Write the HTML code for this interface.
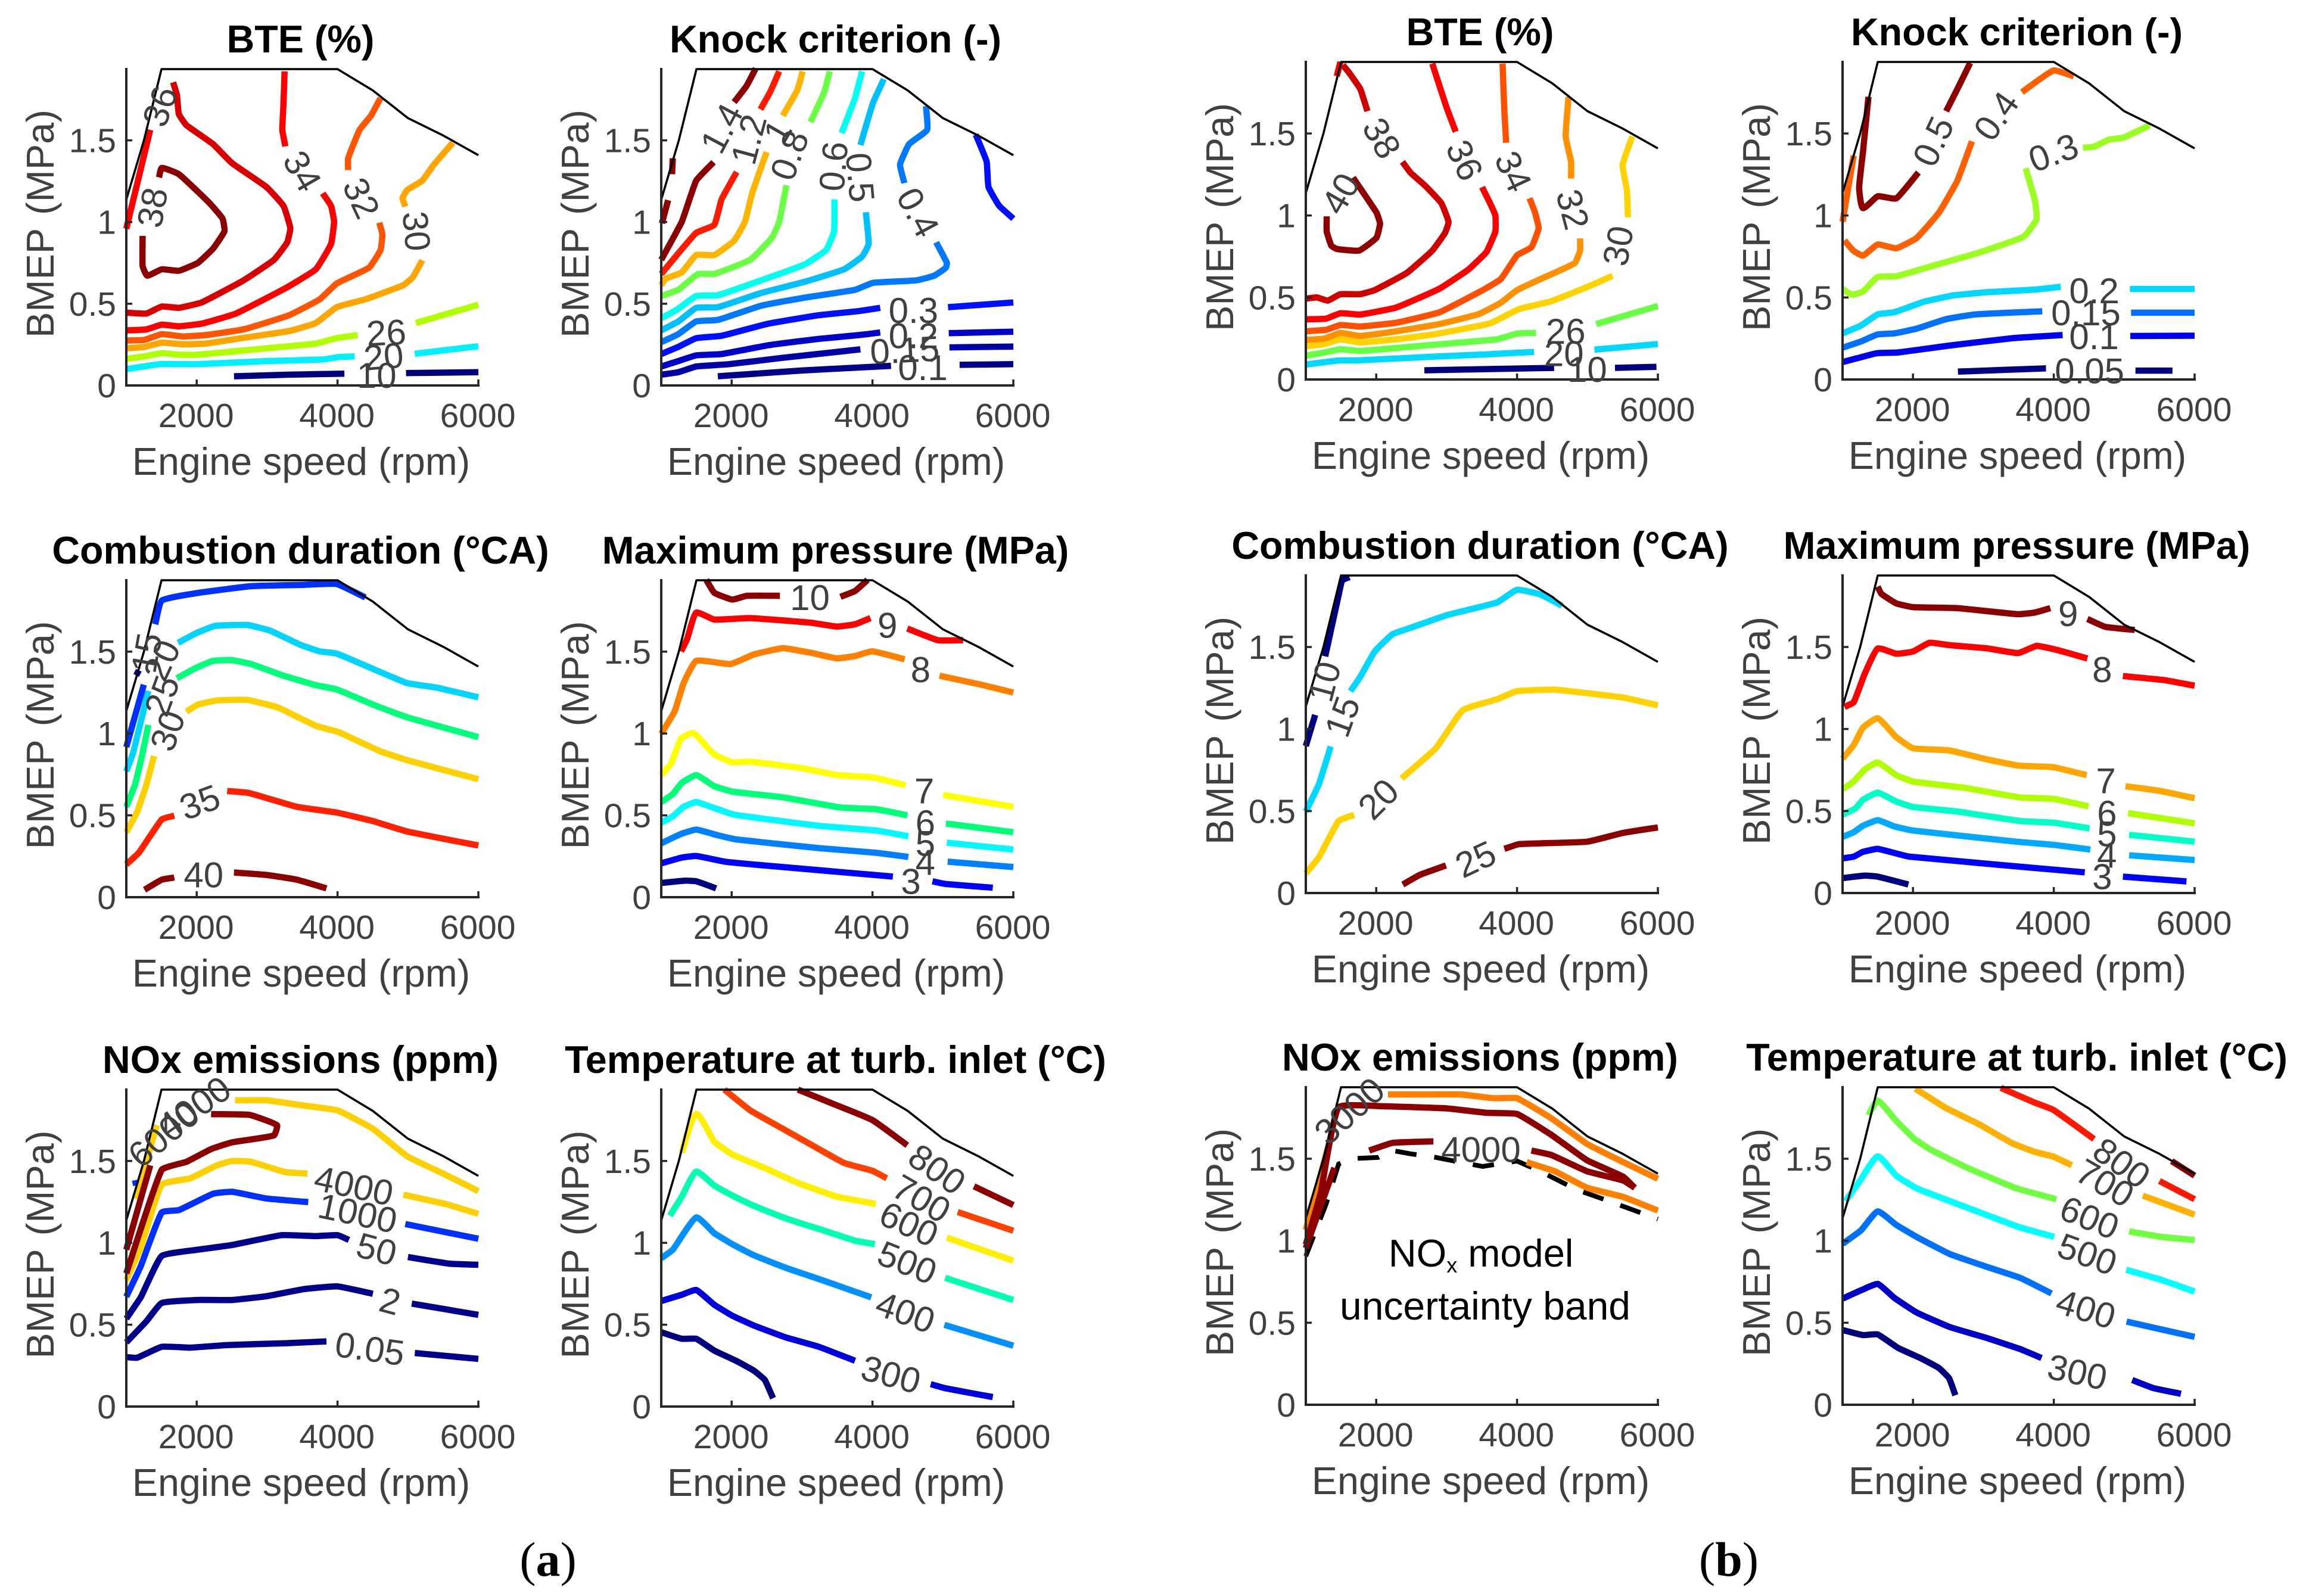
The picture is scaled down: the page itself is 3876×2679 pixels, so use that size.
<!DOCTYPE html>
<html lang="en">
<head>
<meta charset="utf-8">
<title>Engine performance contour maps</title>
<style>
html,body{margin:0;padding:0;background:#fff}
svg{display:block}
text{font-family:"Liberation Sans",sans-serif}
</style>
</head>
<body>
<svg id="figure" xmlns="http://www.w3.org/2000/svg" width="3876" height="2679" viewBox="0 0 3876 2679">
<rect width="3876" height="2679" fill="#ffffff"/>
</svg>
<script>
const xTickValues=[2000,4000,6000];
const yTickValues=[0,0.5,1,1.5];
const xLabelText="Engine speed (rpm)";
const yLabelText="BMEP (MPa)";
const boundaryRpm=[1000,1250,1500,4000,4500,5000,5500,6000];
const boundaryBmep=[1.137,1.5,1.936,1.936,1.806,1.636,1.53,1.409];

/* Each line list: one entry per level, each a list of segments of rpm,bmep,rpm,bmep... */
const bteALevels=[10,20,26,30,32,34,36,38];
const bteALines=[
[[2530,.056,3313,.066,4097,.072],[4973,.076,6000,.081]],
[[1000,.10,1476,.13,2016,.13,2989,.149,3800,.159,4016,.174,4243,.178],[5097,.194,6000,.24]],
[[1000,.163,1259,.178,1503,.198,1746,.188,2016,.188,2989,.227,3692,.256,3989,.29,4286,.308],[5113,.382,6000,.494]],
[[1000,.227,1259,.236,1503,.262,1800,.252,2124,.256,2719,.295,3313,.333,3692,.382,3989,.479,4394,.527,4935,.614,5070,.663,5205,.766],[4962,1.095,4924,1.147,4989,1.196,5205,1.254,5367,1.351,5637,1.486]],
[[1000,.275,1259,.279,1503,.314,1800,.30,2124,.308,2665,.343,3313,.43,3746,.527,3989,.624,4448,.721,4610,.828,4637,.924,4594,.996],[4151,1.318,4151,1.39,4313,1.564,4475,1.651,4610,1.758]],
[[1000,.337,1286,.343,1503,.372,1746,.362,2070,.378,2557,.44,3259,.595,3692,.711,3908,.866,3951,1.002,3908,1.099,3789,1.176],[3259,1.463,3216,1.564,3232,1.719,3248,1.922],[1000,.959,1340,1.564]],
[[1000,.446,1286,.44,1503,.483,1746,.475,2070,.508,2665,.643,3097,.769,3286,.876,3329,.963,3232,1.099,2989,1.215,2503,1.36,2232,1.477,1854,1.593,1746,1.661,1719,1.777,1665,1.855]],
[[1232,.915,1232,.731,1297,.672,1503,.711,1746,.702,2016,.75,2232,.837,2394,.944,2367,1.021,2178,1.118,1746,1.293,1503,1.331,1465,1.273]]
];
const bteALabels=[["38",1368,1.089],["36",1476,1.709],["34",3502,1.312],["32",4340,1.147],["30",5124,.944],["26",4692,.324],["20",4654,.178],["10",4556,.062]];
const bteAAngles=[-80,-70,60,65,85,-3,-5,0];

const knockALevels=[0.1,0.15,0.2,0.3,0.4,0.5,0.6,0.8,1,1.2,1.4];
const knockALines=[
[[1804,.056,2983,.091,4263,.12],[5237,.126,6000,.13]],
[[1000,.066,1241,.081,1497,.116,1958,.13,2726,.169,3828,.221],[5093,.233,6000,.238]],
[[1000,.116,1241,.149,1497,.184,1856,.192,2522,.246,3239,.285,3802,.308,4110,.324],[5083,.32,6000,.329]],
[[1000,.192,1241,.236,1497,.289,1856,.304,2522,.378,3239,.43,3802,.455,4110,.475],[5073,.479,6000,.508],[5467,1.535,5621,1.37,5647,1.215,5800,1.099,6000,1.021]],
[[1000,.265,1241,.314,1497,.392,1804,.401,2419,.488,3034,.537,3751,.585,4007,.628,4622,.643,4878,.672,5042,.721,5057,.75,4904,.876],[4453,1.238,4391,1.351,4520,1.477,4776,1.564,4760,1.709]],
[[1000,.337,1241,.391,1497,.475,1804,.479,2419,.566,3034,.634,3597,.711,3853,.789,3946,.866,3905,1.06],[3828,1.471,4007,1.729,4161,1.874]],
[[1000,.411,1241,.469,1497,.547,1804,.552,2419,.643,3034,.74,3341,.828,3454,.944,3459,1.138],[3562,1.545,3751,1.758,3853,1.922]],
[[1000,.547,1241,.585,1523,.682,1753,.682,2265,.769,2573,.905,2675,1.002,2778,1.225],[3121,1.612,3316,1.797,3393,1.922]],
[[1000,.614,1061,.653,1292,.692,1497,.798,1753,.798,2035,.886,2189,1.002,2291,1.176,2496,1.428],[2726,1.651,2931,1.806,3008,1.922]],
[[1000,.682,1241,.808,1497,.934,1753,.983,1856,1.138,2071,1.306],[2409,1.69,2547,1.797,2675,1.922]],
[[1000,.769,1292,1.002,1497,1.254,1743,1.366],[2035,1.734,2214,1.835,2342,1.94],[1010,.992,1097,1.134],[1164,1.39,1154,1.293]]
];
const knockALabels=[["1.4",1856,1.574],["1.2",2240,1.506],["1",2650,1.554],["0.8",2818,1.409],["0.6",3444,1.341],["0.5",3828,1.273],["0.4",4648,1.06],["0.3",4581,.459],["0.2",4581,.304],["0.15",4458,.217],["0.1",4714,.11]];
const knockAAngles=[-62,-75,-60,-70,-85,85,62,0,0,-3,0];

const combALevels=[40,35,30,25,20,15,10];
const combALines=[
[[1259,.045,1503,.107,1681,.12],[2530,.151,2989,.136,3421,.107,3843,.054]],
[[1000,.2,1178,.271,1503,.475,1681,.498],[2432,.649,2746,.636,3421,.552,3989,.517,4502,.465,4989,.401,6000,.316]],
[[1000,.397,1151,.517,1286,.688,1394,.862],[1854,1.134,2016,1.176,2286,1.202,2719,1.205,3151,1.159,3692,1.047,4016,1.008,4610,.891,4989,.837,6000,.721]],
[[1000,.552,1124,.688,1232,.882,1313,1.052],[1719,1.337,1962,1.395,2232,1.444,2503,1.448,2773,1.424,3205,1.357,3692,1.295,3989,1.269,4529,1.172,4989,1.099,6000,.978]],
[[1000,.769,1097,.882,1313,1.26],[1735,1.554,1989,1.612,2259,1.657,2719,1.663,3043,1.628,3475,1.541,3746,1.502,3989,1.488,4502,1.395,4989,1.308,5421,1.279,6000,1.221]],
[[1000,.917,1249,1.298],[1411,1.667,1503,1.812,1962,1.855,2773,1.9,3530,1.908,3989,1.913,4394,1.831]],
[[1140,1.355,1178,1.386]]
];
const combALabels=[["15",1286,1.492],["20",1503,1.448],["25",1503,1.231],["30",1584,1.017],["35",2043,.581],["40",2097,.136]];
const combAAngles=[-80,-65,-70,-70,-20,0];

const pmaxALevels=[2,3,4,5,6,7,8,9,10];
const pmaxALines=[
[[1000,.087,1343,.101,1497,.097,1779,.054]],
[[1000,.207,1292,.242,1497,.252,1907,.217,2726,.184,4289,.126],[4852,.097,5032,.081,5708,.058]],
[[1000,.329,1292,.388,1497,.413,1804,.378,2061,.353,3239,.3,4058,.271,4509,.246],[5068,.217,6000,.184]],
[[1000,.455,1164,.494,1318,.552,1497,.581,1804,.537,2035,.504,3239,.436,4058,.407,4509,.372],[5057,.333,6000,.291]],
[[1000,.581,1164,.63,1292,.698,1497,.746,1753,.678,2009,.645,2726,.61,3546,.548,4058,.537,4494,.5],[5042,.45,6000,.397]],
[[1000,.746,1138,.814,1282,.969,1446,1.004,1522,.979,1753,.872,2009,.824,2265,.828,2982,.789,3495,.746,4007,.731,4468,.684],[5007,.624,6000,.552]],
[[1000,.998,1189,1.134,1318,1.308,1497,1.444,1984,1.424,2316,1.483,2726,1.521,3135,1.492,3495,1.459,3751,1.473,3997,1.502,4458,1.453],[4952,1.353,5543,1.298,6000,1.25]],
[[1282,1.502,1369,1.579,1497,1.738,1753,1.696,2265,1.705,3135,1.676,3495,1.653,3751,1.667,3971,1.705],[4494,1.641,4929,1.57,5288,1.57]],
[[1640,1.938,1753,1.86,2009,1.818,2214,1.841,2685,1.841],[3546,1.835,3751,1.87,3930,1.938]]
];
const pmaxALabels=[["10",3111,1.831],["9",4212,1.661],["8",4683,1.391],["7",4735,.649],["6",4750,.455],["5",4750,.329],["4",4750,.213],["3",4545,.097]];
const pmaxAAngles=[0,0,0,0,0,0,0,0];

const noxALevels=[0.05,2,50,1000,4000,6000];
const noxALines=[
[[1000,.302,1151,.298,1503,.365,1908,.36,2449,.376,3259,.387,3843,.398],[5097,.327,6000,.291]],
[[1000,.392,1286,.521,1503,.633,2016,.651,2503,.651,2989,.674,3530,.718,4000,.734,4502,.689],[5054,.629,6000,.56]],
[[1000,.537,1205,.667,1503,.92,2016,.958,2503,.987,3205,1.047,3692,1.041,4000,1.047,4162,1.018],[5000,.913,5583,.873,6000,.866]],
[[1000,.671,1205,.857,1503,1.186,1746,1.2,2232,1.3,2503,1.312,2989,1.271,3584,1.249],[4962,1.115,6000,1.025],[1124,1.383,1140,1.35]],
[[1000,.772,1205,.969,1503,1.356,1908,1.394,2286,1.473,2503,1.5,2773,1.495,3259,1.432,3573,1.423],[4935,1.294,5530,1.238,6000,1.177],[1124,1.271,1232,1.417,1432,1.719],[2546,1.871,2989,1.871,3530,1.838,4000,1.809,4502,1.697,4989,1.529,5530,1.417,6000,1.316]],
[[1000,.813,1503,1.446,1854,1.495,2205,1.573,2503,1.614,3097,1.656,3140,1.719,2746,1.782,2205,1.786],[1000,.958,1340,1.473]]
];
const noxALabels=[["4000",4232,1.35],["1000",4286,1.182],["50",4556,.962],["2",4746,.645],["0.05",4459,.354],["6000",1530,1.663],["4000",1962,1.829]];
const noxAAngles=[12,12,15,15,8,-40,-35];

const tempALevels=[200,300,400,500,600,700,800];
const tempALines=[
[[1000,.454,1292,.414,1497,.414,1753,.342,2061,.28,2316,.219,2470,.163,2588,.051]],
[[1000,.645,1292,.683,1497,.712,1753,.622,2009,.555,2316,.495,2778,.421,3239,.365,3751,.28],[4827,.137,5032,.112,5708,.058]],
[[1000,.906,1164,.958,1497,1.155,1753,1.059,2009,.992,2316,.924,2778,.846,3239,.779,3982,.667],[5021,.499,6000,.372]],
[[1123,1.166,1292,1.282,1497,1.435,1753,1.35,2009,1.289,2316,1.226,2778,1.148,3239,1.085,3751,1.014,4033,.992],[5032,.786,6000,.651]],
[[1292,1.551,1497,1.786,1753,1.618,2009,1.54,2470,1.457,2931,1.368,3495,1.282,4048,1.238],[5057,1.032,5442,.974,6000,.891]],
[[1897,1.936,2265,1.809,2726,1.697,3239,1.573,3597,1.488,4007,1.439,4202,1.394],[5211,1.188,6000,1.074]],
[[2942,1.936,3546,1.831,4007,1.748,4494,1.596],[5442,1.345,6000,1.231]]
];
const tempALabels=[["800",4919,1.45],["700",4699,1.271],["600",4519,1.115],["500",4494,.88],["400",4468,.577],["300",4263,.197]];
const tempAAngles=[35,30,25,22,20,15];

const bteBLevels=[10,20,26,30,32,34,36,38,40];
const bteBLines=[
[[2684,.056,4526,.071],[5391,.071,5980,.077]],
[[1000,.091,1466,.116,1722,.116,2796,.139,3564,.153,4240,.168],[5100,.182,6000,.216]],
[[1000,.145,1261,.164,1491,.184,1773,.174,2796,.211,3718,.245,4000,.28,4270,.284],[5125,.338,6000,.448]],
[[1000,.203,1261,.216,1491,.245,1773,.226,2285,.245,2796,.274,3615,.342,4025,.429,4485,.477,4997,.564,5355,.632],[5575,.989,5560,1.153,5499,1.308,5637,1.482]],
[[1000,.241,1261,.249,1491,.284,1773,.265,2285,.294,2899,.338,3462,.4,3769,.468,4000,.545,4332,.612,4818,.709,4895,.786,4895,.86],[4767,1.225,4767,1.327,4690,1.482,4731,1.723]],
[[1000,.294,1287,.303,1491,.332,1773,.323,2285,.346,2899,.41,3513,.545,3769,.612,4000,.757,4204,.806,4306,.922,4255,1.018,4178,1.105],[3845,1.443,3820,1.636,3794,1.926]],
[[1000,.367,1287,.371,1491,.404,1773,.396,2285,.439,2899,.554,3308,.67,3564,.777,3692,.902,3692,.999,3615,1.076,3503,1.173],[3129,1.511,3001,1.656,2796,1.926],[1440,1.849,1491,1.936]],
[[1000,.493,1159,.5,1312,.481,1491,.52,1773,.52,1978,.545,2438,.651,2796,.786,2976,.893,3027,.96,2924,1.076,2694,1.182,2489,1.26,2372,1.327],[1875,1.636,1773,1.772,1619,1.868,1527,1.917]],
[[1297,.995,1297,.902,1363,.815,1440,.796,1757,.786,2003,.864,2054,.951,2003,1.018,1670,1.231]]
];
const bteBLabels=[["40",1491,1.134],["38",2080,1.472],["36",3257,1.337],["34",3948,1.269],["32",4793,1.037],["30",5432,.815],["26",4690,.294],["20",4665,.158],["10",4997,.062]];
const bteBAngles=[-60,60,65,65,75,-80,0,0,0];

const knockBLevels=[0.05,0.1,0.15,0.2,0.3,0.4,0.5];
const knockBLines=[
[[2639,.048,3889,.068],[5160,.054,5685,.054]],
[[1000,.106,1263,.136,1499,.161,1788,.165,2523,.207,3416,.252,4125,.271],[5086,.265,6000,.267]],
[[1000,.194,1263,.232,1499,.275,1735,.281,2050,.31,2471,.368,2891,.397,3836,.416],[5097,.407,6000,.407]],
[[1000,.281,1263,.329,1499,.397,1735,.41,2155,.474,2576,.513,3048,.532,3731,.548,4099,.565],[5081,.552,6000,.552]],
[[1000,.552,1131,.517,1289,.536,1499,.625,1762,.629,2313,.697,2943,.774,3573,.871,3757,.978,3731,1.094,3600,1.288],[4414,1.413,4571,1.419,4781,1.462,4991,1.475,5359,1.549]],
[[1026,.848,1158,.784,1289,.755,1499,.823,1762,.8,2050,.862,2366,1.016,2628,1.21,2838,1.452],[3547,1.752,3994,1.884,4283,1.849],[1000,.962,1158,1.365]],
[[1368,1.723,1289,1.384,1236,1.171,1289,1.045,1499,1.117,1762,1.104,2077,1.262],[2471,1.636,2654,1.791,2812,1.93]]
];
const knockBLabels=[["0.5",2287,1.452],["0.4",3180,1.607],["0.3",3994,1.384],["0.2",4571,.542],["0.15",4456,.407],["0.1",4571,.261],["0.05",4508,.052]];
const knockBAngles=[-65,-55,-20,0,0,0,0];

const combBLevels=[10,15,20,25];
const combBLines=[
[[1000,.896,1133,1.086],[1276,1.443,1466,1.816,1517,1.907,1619,1.926]],
[[1000,.497,1184,.661,1353,.893],[1635,1.231,1773,1.318,1978,1.472,2233,1.578,2489,1.617,3001,1.694,3718,1.772,4000,1.849,4332,1.82,4639,1.752]],
[[1000,.12,1184,.216,1466,.439,1686,.477],[2361,.699,2848,.883,3231,1.115,3718,1.182,4000,1.231,4537,1.24,4946,1.221,5509,1.192,6000,1.144]],
[[2377,.052,2617,.11,2991,.168],[3820,.269,4025,.298,4997,.313,5509,.367,6000,.4]]
];
const combBLabels=[["10",1261,1.289],["15",1517,1.076],["20",2029,.574],["25",3410,.207]];
const combBAngles=[-75,-70,-45,-25];

const pmaxBLevels=[2,3,4,5,6,7,8,9];
const pmaxBLines=[
[[1000,.091,1315,.106,1499,.1,1935,.052]],
[[1000,.211,1158,.222,1289,.251,1499,.269,1945,.222,4440,.126],[4981,.1,5884,.071]],
[[1000,.342,1158,.371,1289,.41,1499,.444,1735,.406,1998,.381,3468,.313,3994,.294,4519,.265],[5070,.23,6000,.201]],
[[1000,.477,1184,.516,1289,.568,1499,.612,1762,.558,1998,.525,2628,.497,3521,.439,3994,.429,4508,.394],[5070,.355,6000,.313]],
[[1000,.632,1158,.68,1315,.753,1499,.796,1762,.719,1998,.68,2733,.641,3521,.583,3994,.574,4492,.529],[5055,.487,6000,.425]],
[[1000,.819,1158,.902,1289,1.008,1499,1.066,1762,.951,1998,.883,2523,.869,3048,.815,3494,.777,3994,.767,4466,.719],[5018,.651,5517,.622,6000,.578]],
[[1026,1.134,1158,1.163,1315,1.337,1499,1.491,1762,1.459,1998,1.472,2234,1.526,2523,1.511,3048,1.492,3494,1.463,3757,1.507,4046,1.482,4477,1.43],[4981,1.323,5569,1.298,6000,1.264]],
[[1499,1.868,1551,1.824,1762,1.766,1998,1.743,2628,1.737,3494,1.7,3731,1.71,3951,1.737],[4477,1.671,4729,1.623,5149,1.604]]
];
const pmaxBLabels=[["9",4204,1.704],["8",4687,1.362],["7",4740,.684],["6",4755,.487],["5",4755,.361],["4",4755,.23],["3",4687,.1]];
const pmaxBAngles=[0,0,0,0,0,0,0];

const noxBBandRpm=[1000,1287,1466,1671,2029,2233,2489,2848,3154,3513,3743,3999,4332,4844,5355,6000];
const noxBBandBmep=[.906,1.222,1.468,1.501,1.508,1.55,1.53,1.508,1.482,1.453,1.469,1.486,1.423,1.312,1.234,1.132];
const noxBLevels=[3000,4000];
const noxBLines=[
[[1000,1.066,1363,1.646],[2167,1.892,2796,1.892,3205,1.892,3666,1.869,3999,1.869,4486,1.747,4997,1.59,5509,1.479,6000,1.378],[4137,1.479,4537,1.423,4997,1.323,5509,1.267,6000,1.184]],
[[1000,.977,1210,1.289,1466,1.813,2080,1.82,3001,1.807,3564,1.78,3999,1.773,4486,1.646,4997,1.49,5509,1.39,5672,1.323],[1000,.955,1184,1.178,1404,1.445],[1901,1.55,2234,1.597,2812,1.606],[4204,1.55,4486,1.523,4997,1.423,5509,1.367,5672,1.323]]
];
const noxBLabels=[["3000",1619,1.792],["4000",3487,1.557]];
const noxBAngles=[-42,0];

const tempBLevels=[200,300,400,500,600,700,800,900];
const tempBLines=[
[[1000,.456,1289,.425,1499,.429,1788,.347,2103,.285,2366,.225,2513,.162,2602,.058]],
[[1000,.647,1289,.703,1499,.737,1735,.652,2050,.563,2523,.474,3048,.407,3521,.34,3826,.285],[5113,.151,5412,.102,5805,.067]],
[[1000,.981,1263,1.064,1499,1.179,1762,1.097,2050,1.024,2523,.919,3048,.841,3521,.774,3967,.679],[5034,.507,6000,.414]],
[[1042,1.242,1263,1.375,1499,1.515,1762,1.397,2050,1.32,2523,1.242,3048,1.157,3521,1.081,4004,1.024],[5029,.823,5517,.763,6000,.69]],
[[1368,1.765,1499,1.854,1762,1.731,2024,1.62,2260,1.553,2786,1.442,3468,1.32,4036,1.253],[5070,1.057,5517,1.024,6000,1.004]],
[[2035,1.927,2471,1.809,2943,1.709,3416,1.593,3731,1.542,3994,1.513,4256,1.46],[5265,1.275,6000,1.159]],
[[3248,1.932,3731,1.842,3994,1.798,4571,1.62],[5501,1.364,6000,1.253]],
[[5674,1.486,6000,1.397]]
];
const tempBLabels=[["800",4965,1.475],["700",4729,1.353],["600",4508,1.142],["500",4477,.919],["400",4456,.585],["300",4335,.2]];
const tempBAngles=[35,30,22,20,17,12];

const panels=[
{key:"bte-a",title:"BTE (%)",left:212,top:116,zero:647,levels:bteALevels,lines:bteALines,labels:bteALabels,angles:bteAAngles,colors:["#00007f","#00f0ff","#b0ff00","#ffa500","#ff5500","#ff0000","#d80000","#8b0000"]},
{key:"knock-a",title:"Knock criterion (-)",left:1110,top:116,zero:647,levels:knockALevels,lines:knockALines,labels:knockALabels,angles:knockAAngles,colors:["#00008a","#0000a6","#0000c8","#0010ff","#0078ff","#00c0ff","#00ffee","#6aff45","#ffb400","#ff1a00","#8b0000"]},
{key:"combustion-a",title:"Combustion duration (°CA)",left:212,top:974,zero:1506,levels:combALevels,lines:combALines,labels:combALabels,angles:combAAngles,colors:["#8b0000","#ff2000","#ffd000","#00ff78","#00d4ff","#0030ff","#000090"]},
{key:"pressure-a",title:"Maximum pressure (MPa)",left:1110,top:974,zero:1506,levels:pmaxALevels,lines:pmaxALines,labels:pmaxALabels,angles:pmaxAAngles,colors:["#00007f","#0000ff","#0080ff","#00f8ff","#00ff78","#ffff00","#ff8000","#ff0000","#8b0000"]},
{key:"nox-a",title:"NOx emissions (ppm)",left:212,top:1829,zero:2361,levels:noxALevels,lines:noxALines,labels:noxALabels,angles:noxAAngles,colors:["#00008b","#00008b","#00008f","#0030ff","#ffd000","#8b0000"]},
{key:"temp-a",title:"Temperature at turb. inlet (°C)",left:1110,top:1829,zero:2361,levels:tempALevels,lines:tempALines,labels:tempALabels,angles:tempAAngles,colors:["#00007f","#0000dd","#0090ff","#00ffb0","#fff000","#ff4000","#8b0000"]},
{key:"bte-b",title:"BTE (%)",left:2192,top:104,zero:637,levels:bteBLevels,lines:bteBLines,labels:bteBLabels,angles:bteBAngles,colors:["#00007f","#00d8ff","#66ff44","#ffd200","#ff9000","#ff5000","#ff0000","#d00000","#900000"]},
{key:"knock-b",title:"Knock criterion (-)",left:3093,top:104,zero:637,levels:knockBLevels,lines:knockBLines,labels:knockBLabels,angles:knockBAngles,colors:["#000080","#0000f0","#0070ff","#00d8ff","#9aff20","#ff6000","#8b0000"]},
{key:"combustion-b",title:"Combustion duration (°CA)",left:2192,top:966,zero:1499,levels:combBLevels,lines:combBLines,labels:combBLabels,angles:combBAngles,colors:["#00007f","#00d8ff","#ffd200","#8b0000"]},
{key:"pressure-b",title:"Maximum pressure (MPa)",left:3093,top:966,zero:1499,levels:pmaxBLevels,lines:pmaxBLines,labels:pmaxBLabels,angles:pmaxBAngles,colors:["#00007f","#0000ff","#00a8ff","#00ffc8","#b0ff00","#ffa500","#ff0000","#8b0000"]},
{key:"nox-b",title:"NOx emissions (ppm)",left:2192,top:1825,zero:2358,levels:noxBLevels,lines:noxBLines,labels:noxBLabels,angles:noxBAngles,band:true,colors:["#ff8000","#8b0000"]},
{key:"temp-b",title:"Temperature at turb. inlet (°C)",left:3093,top:1825,zero:2358,levels:tempBLevels,lines:tempBLines,labels:tempBLabels,angles:tempBAngles,colors:["#00007f","#0000c8","#0070ff","#00ffff","#70ff40","#ffb000","#ff1800","#8b0000"]}
];

const AXIS_WIDTH=591;
const BMEP_MAX=1.936;
const SMOOTHING=0.12;
const svgNS="http://www.w3.org/2000/svg";
const figure=document.getElementById("figure");

function make(parent,tag,attrs){
  const el=document.createElementNS(svgNS,tag);
  for(const k in attrs){el.setAttribute(k,attrs[k]);}
  parent.appendChild(el);
  return el;
}
function xAxis(p,rpm){return p.left+(rpm-1000)/5000*AXIS_WIDTH;}
function yAxis(p,bmep){return p.zero-bmep/BMEP_MAX*(p.zero-p.top);}
function tangent(pts,i){
  const a=pts[Math.max(i-1,0)];
  const b=pts[Math.min(i+1,pts.length-1)];
  const dx=b[0]-a[0];
  const dy=b[1]-a[1];
  const len=Math.hypot(dx,dy)||1;
  return [dx/len,dy/len];
}
function pathFromPairs(p,seg){
  const pts=[];
  for(let i=0;i<seg.length;i+=2){pts.push([xAxis(p,seg[i]),yAxis(p,seg[i+1])]);}
  let d="M"+pts[0][0].toFixed(1)+" "+pts[0][1].toFixed(1);
  for(let i=0;i<pts.length-1;i++){
    const a=pts[i];
    const b=pts[i+1];
    const len=Math.hypot(b[0]-a[0],b[1]-a[1]);
    const ta=tangent(pts,i);
    const tb=tangent(pts,i+1);
    const k=len*SMOOTHING;
    d+="C"+(a[0]+ta[0]*k).toFixed(1)+" "+(a[1]+ta[1]*k).toFixed(1)+" "+(b[0]-tb[0]*k).toFixed(1)+" "+(b[1]-tb[1]*k).toFixed(1)+" "+b[0].toFixed(1)+" "+b[1].toFixed(1);
  }
  return d;
}
function pathFromColumns(p,xs,ys){
  let d="";
  for(let i=0;i<xs.length;i++){
    d+=(i===0?"M":"L")+xAxis(p,xs[i]).toFixed(1)+" "+yAxis(p,ys[i]).toFixed(1);
  }
  return d;
}

panels.forEach(function(p){
  const g=make(figure,"g",{});
  
  

  const title=make(g,"text",{x:p.left+AXIS_WIDTH/2-3,y:p.top-28,"text-anchor":"middle","font-size":64.7,"font-weight":"bold",fill:"#000000"});
  title.textContent=p.title;
  
  

  if(p.band){
    const band=make(g,"path",{d:pathFromColumns(p,noxBBandRpm,noxBBandBmep),fill:"none",stroke:"#000000","stroke-width":8,"stroke-dasharray":"36 30"});
    
    
  }

  p.lines.forEach(function(segments,li){
    segments.forEach(function(seg){
      const line=make(g,"path",{d:pathFromPairs(p,seg),fill:"none",stroke:p.colors[li],"stroke-width":10.5,"stroke-linejoin":"round","stroke-linecap":"butt"});
      
      
    });
  });

  const boundary=make(g,"path",{d:pathFromColumns(p,boundaryRpm,boundaryBmep),fill:"none",stroke:"#000000","stroke-width":3.6,"stroke-linejoin":"round"});
  
  

  const axisColor="#262626";
  const yLine=make(g,"line",{x1:p.left,x2:p.left,y1:p.top-2,y2:p.zero+2,stroke:axisColor,"stroke-width":4});
  
  
  const xLine=make(g,"line",{x1:p.left-2,x2:p.left+AXIS_WIDTH+2,y1:p.zero,y2:p.zero,stroke:axisColor,"stroke-width":4});
  
  

  xTickValues.forEach(function(v){
    const x=xAxis(p,v);
    const tick=make(g,"line",{x1:x,x2:x,y1:p.zero,y2:p.zero-10,stroke:axisColor,"stroke-width":3.5});
    
    
    const t=make(g,"text",{x:x-1,y:p.zero+70,"text-anchor":"middle","font-size":57,fill:"#404040"});
    t.textContent=String(v);
    
    
  });
  yTickValues.forEach(function(v){
    const y=yAxis(p,v);
    if(v>0){
      const tick=make(g,"line",{x1:p.left,x2:p.left+10,y1:y,y2:y,stroke:axisColor,"stroke-width":3.5});
      
      
    }
    const t=make(g,"text",{x:p.left-17,y:y+20,"text-anchor":"end","font-size":57,fill:"#404040"});
    t.textContent=String(v);
    
    
  });

  const xl=make(g,"text",{x:p.left+AXIS_WIDTH/2-2,y:p.zero+150,"text-anchor":"middle","font-size":64.6,fill:"#404040"});
  xl.textContent=xLabelText;
  
  
  const yc=(p.top+p.zero)/2-6;
  const yl=make(g,"text",{transform:"translate("+(p.left-122)+" "+yc+") rotate(-90)","text-anchor":"middle","font-size":65,"word-spacing":5,fill:"#404040"});
  yl.textContent=yLabelText;
  
  

  p.labels.forEach(function(lab,i){
    const x=xAxis(p,lab[1]);
    const y=yAxis(p,lab[2]);
    const t=make(g,"text",{transform:"translate("+x.toFixed(1)+" "+y.toFixed(1)+") rotate("+p.angles[i]+")","text-anchor":"middle",y:21,"font-size":60,fill:"#404040"});
    t.textContent=lab[0];
    
    
  });
});

const note=make(figure,"g",{});


const note1=make(note,"text",{x:2486,y:2126,"text-anchor":"middle","font-size":65,fill:"#000000"});
const n1a=make(note1,"tspan",{});
n1a.textContent="NO";
const n1b=make(note1,"tspan",{dy:10,"font-size":36});
n1b.textContent="x";
const n1c=make(note1,"tspan",{dy:-10});
n1c.textContent=" model";
const note2=make(note,"text",{x:2493,y:2215,"text-anchor":"middle","font-size":66,fill:"#000000"});
note2.textContent="uncertainty band";

function caption(x,letter,name){
  const t=make(figure,"text",{x:x,y:2645,"text-anchor":"middle","font-size":82,fill:"#000000"});
  t.style.fontFamily='"Liberation Serif",serif';
  const a=make(t,"tspan",{});
  a.textContent="(";
  const b=make(t,"tspan",{"font-weight":"bold"});
  b.textContent=letter;
  const c=make(t,"tspan",{});
  c.textContent=")";
  
  
}
caption(920,"a","caption-a");
caption(2902,"b","caption-b");
</script>
</body>
</html>
